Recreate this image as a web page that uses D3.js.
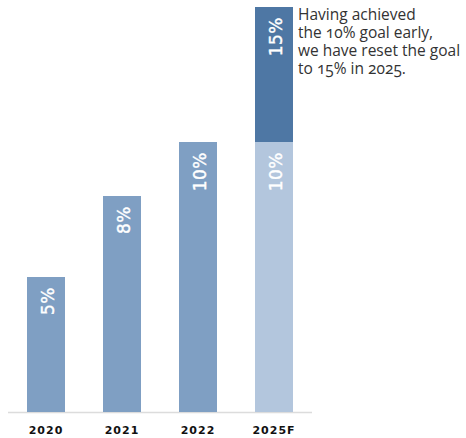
<!DOCTYPE html>
<html>
<head>
<meta charset="utf-8">
<script src="https://cdn.jsdelivr.net/npm/d3@7"></script>
<style>
  html, body { margin: 0; padding: 0; background: #fff; }
  svg { display: block; }
</style>
</head>
<body>
<svg id="chart" width="466" height="438"></svg>
<script>
// Share of target reached per year; 2025F also carries the raised goal
const years = ["2020", "2021", "2022", "2025F"];
const achieved = [5, 8, 10, 10];
const goalYear = "2025F";
const goalValue = 15;
const valueLabels = ["5%", "8%", "10%", "10%"];
const goalLabel = "15%";
const noteLines = [
  "Having achieved",
  "the 10% goal early,",
  "we have reset the goal",
  "to 15% in 2025."
];

const svg = d3.select("#chart");

const x = d3.scaleBand()
  .domain(years)
  .range([8, 312])
  .paddingInner(0.5)
  .paddingOuter(0.25);

const y = d3.scaleLinear()
  .domain([0, 15])
  .range([412, 7]);

const colActual = "#7f9fc3";
const colForecastBase = "#b3c6dd";
const colGoal = "#4e77a4";

// baseline axis
svg.append("line")
  .attr("x1", 8).attr("x2", 312)
  .attr("y1", y(0) + 0.5).attr("y2", y(0) + 0.5)
  .attr("stroke", "#dcdcdc")
  .attr("stroke-width", 1.5);

const bars = years.map((yr, i) => ({ year: yr, value: achieved[i], label: valueLabels[i] }));

svg.selectAll("rect.bar")
  .data(bars)
  .join("rect")
  .attr("class", "bar")
  .attr("x", d => x(d.year))
  .attr("width", x.bandwidth())
  .attr("y", d => y(d.value))
  .attr("height", d => y(0) - y(d.value))
  .attr("fill", d => d.year === goalYear ? colForecastBase : colActual);

// raised goal stacked on top of the forecast bar
const base = achieved[years.indexOf(goalYear)];
svg.append("rect")
  .attr("x", x(goalYear))
  .attr("width", x.bandwidth())
  .attr("y", y(goalValue))
  .attr("height", y(base) - y(goalValue))
  .attr("fill", colGoal);

const labelFont = "DejaVu Sans, sans-serif";

function vLabel(cx, topY, text) {
  svg.append("text")
    .attr("transform", `translate(${cx + 8},${topY + 10}) rotate(-90)`)
    .attr("text-anchor", "end")
    .attr("font-family", labelFont)
    .attr("font-size", 17)
    .attr("letter-spacing", 0.5)
    .attr("fill", "#ffffff")
    .attr("stroke", "#ffffff")
    .attr("stroke-width", 0.4)
    .text(text);
}

bars.forEach(d => vLabel(x(d.year) + x.bandwidth() / 2, y(d.value), d.label));
vLabel(x(goalYear) + x.bandwidth() / 2, y(goalValue), goalLabel);

// category labels
svg.selectAll("text.tick")
  .data(years)
  .join("text")
  .attr("class", "tick")
  .attr("x", d => x(d) + x.bandwidth() / 2)
  .attr("y", 434)
  .attr("text-anchor", "middle")
  .attr("font-family", labelFont)
  .attr("font-weight", "bold")
  .attr("font-size", 11)
  .attr("letter-spacing", 1)
  .attr("fill", "#111")
  .text(d => d);

// note beside the goal bar, one text per line
svg.selectAll("text.note")
  .data(noteLines)
  .join("text")
  .attr("class", "note")
  .attr("x", 298)
  .attr("y", (d, i) => 20 + i * 18)
  .attr("font-family", "Open Sans, sans-serif")
  .attr("font-size", 15.5)
  .attr("fill", "#333333")
  .style("font-variant-numeric", "oldstyle-nums")
  .text(d => d);
</script>
</body>
</html>
